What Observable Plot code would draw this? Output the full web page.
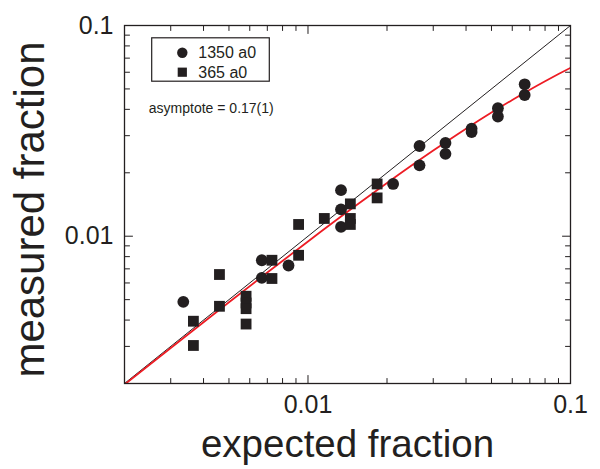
<!DOCTYPE html>
<html>
<head>
<meta charset="utf-8">
<script src="https://cdn.jsdelivr.net/npm/d3@7"></script>
<script src="https://cdn.jsdelivr.net/npm/@observablehq/plot@0.6"></script>
<style>
  html, body { margin: 0; padding: 0; background: #fff; }
</style>
</head>
<body>
<div id="chart"></div>
<script>
// ---- data ----
const circleX = [0.00335, 0.00667, 0.00667, 0.00843, 0.01336, 0.01336, 0.01336, 0.0211, 0.0266, 0.0266, 0.0334, 0.0334, 0.042, 0.042, 0.0529, 0.0529, 0.0669, 0.0669];
const circleY = [0.00488, 0.00769, 0.00634, 0.00726, 0.01654, 0.0134, 0.01107, 0.0177, 0.0268, 0.0217, 0.0277, 0.0246, 0.0324, 0.0312, 0.0405, 0.037, 0.0526, 0.0468];
const squareX = [0.00366, 0.00366, 0.0046, 0.0046, 0.00581, 0.00581, 0.00581, 0.00581, 0.00729, 0.00729, 0.00921, 0.00921, 0.01154, 0.0145, 0.0145, 0.0145, 0.01834, 0.01834];
const squareY = [0.00395, 0.00303, 0.00658, 0.00465, 0.00519, 0.00482, 0.00453, 0.00383, 0.00769, 0.0063, 0.01137, 0.00812, 0.01214, 0.01424, 0.01214, 0.01137, 0.0177, 0.0152];

// fitted curve (red)
const fitX = [0.002, 0.003, 0.005, 0.007, 0.01, 0.015, 0.02, 0.03, 0.04, 0.05, 0.06, 0.07, 0.08, 0.09, 0.1];
const fitY = [0.001977, 0.002948, 0.004857, 0.006723, 0.009444, 0.013784, 0.017895, 0.0255, 0.032381, 0.038636, 0.044348, 0.049583, 0.0544, 0.058846, 0.062963];

// y = x reference line
const diagX = [0.002, 0.1];
const diagY = [0.002, 0.1];

const majorTicks = [0.01, 0.1];
const majorLabels = ["0.01", "0.1"];
const minorTicks = [0.003, 0.004, 0.005, 0.006, 0.007, 0.008, 0.009, 0.02, 0.03, 0.04, 0.05, 0.06, 0.07, 0.08, 0.09];

const legendLabels = ["1350 a0", "365 a0"];
const legendSymbols = ["circle", "square"];
const annotation = "asymptote = 0.17(1)";
const xTitle = "expected fraction";
const yTitle = "measured fraction";

const ink = "#231f20";
const red = "#ed1c24";
const font = "'Liberation Sans', Arial, Helvetica, sans-serif";

const circles = circleX.map((x, i) => ({x, y: circleY[i]}));
const squares = squareX.map((x, i) => ({x, y: squareY[i]}));
const fit = fitX.map((x, i) => ({x, y: fitY[i]}));
const diag = diagX.map((x, i) => ({x, y: diagY[i]}));

// plain line shape for inward tick marks
const tickShape = {draw(context, l) { context.moveTo(0, 0); context.lineTo(0, -l); }};

function inwardTicks(values, len) {
  const common = {length: len, anchor: "start", shape: tickShape, stroke: ink, strokeWidth: 1};
  return [
    Plot.vector(values, {x: d => d, frameAnchor: "bottom", rotate: 0, ...common}),
    Plot.vector(values, {x: d => d, frameAnchor: "top", rotate: 180, ...common}),
    Plot.vector(values, {y: d => d, frameAnchor: "left", rotate: 90, ...common}),
    Plot.vector(values, {y: d => d, frameAnchor: "right", rotate: -90, ...common})
  ];
}

function legendMark(index, scales, values, dims) {
  const g = d3.create("svg:g");
  const x0 = dims.marginLeft, y0 = dims.marginTop;
  g.append("rect")
    .attr("x", x0 + 27.7).attr("y", y0 + 12.8)
    .attr("width", 117.6).attr("height", 43.4)
    .attr("fill", "white").attr("stroke", ink).attr("stroke-width", 1.2);
  legendLabels.forEach((lab, i) => {
    const cy = y0 + 27.8 + i * 19.4;
    const cx = x0 + 58.3;
    if (legendSymbols[i] === "circle") {
      g.append("circle").attr("cx", cx).attr("cy", cy).attr("r", 5.2).attr("fill", ink);
    } else {
      g.append("rect").attr("x", cx - 4.6).attr("y", cy - 4.6).attr("width", 9.2).attr("height", 9.2).attr("fill", ink);
    }
    g.append("text")
      .attr("x", x0 + 74.3).attr("y", cy).attr("dy", "0.35em")
      .attr("text-anchor", "start")
      .attr("font-size", 16).attr("font-family", font).attr("fill", ink)
      .text(lab);
  });
  return g.node();
}

const chart = Plot.plot({
  width: 600,
  height: 469,
  marginLeft: 124,
  marginRight: 30,
  marginTop: 25,
  marginBottom: 86,
  style: {fontFamily: font, fontSize: "25px", color: ink, background: "white"},
  x: {type: "log", domain: [0.002, 0.1]},
  y: {type: "log", domain: [0.002, 0.1]},
  marks: [
    Plot.line(diag, {x: "x", y: "y", stroke: ink, strokeWidth: 1, clip: true}),
    Plot.line(fit, {x: "x", y: "y", stroke: red, strokeWidth: 1.8, curve: "monotone-x", clip: true}),
    Plot.dot(circles, {x: "x", y: "y", r: 5.9, fill: ink, symbol: "circle"}),
    Plot.dot(squares, {x: "x", y: "y", r: 6.1, fill: ink, symbol: "square"}),
    ...inwardTicks(minorTicks, 5),
    ...inwardTicks(majorTicks, 8),
    Plot.frame({stroke: ink, strokeWidth: 1.3}),
    Plot.axisX({ticks: majorTicks, tickFormat: d => majorLabels[majorTicks.indexOf(d)], tickSize: 0, tickPadding: 12, label: null, fontSize: 25, fill: ink}),
    Plot.axisY({ticks: majorTicks, tickFormat: d => majorLabels[majorTicks.indexOf(d)], tickSize: 0, tickPadding: 11, label: null, fontSize: 25, fill: ink}),
    Plot.text([xTitle], {text: d => d, frameAnchor: "bottom", dy: 73, lineAnchor: "bottom", fontSize: 38.5, fill: ink}),
    Plot.text([yTitle], {text: d => d, frameAnchor: "left", dx: -81, dy: 5, rotate: -90, textAnchor: "middle", lineAnchor: "bottom", fontSize: 42, fill: ink}),
    Plot.text([annotation], {text: d => d, frameAnchor: "top-left", dx: 24.3, dy: 82.8, textAnchor: "start", lineAnchor: "middle", fontSize: 14, fill: ink}),
    legendMark
  ]
});

document.getElementById("chart").appendChild(chart);
</script>
</body>
</html>
